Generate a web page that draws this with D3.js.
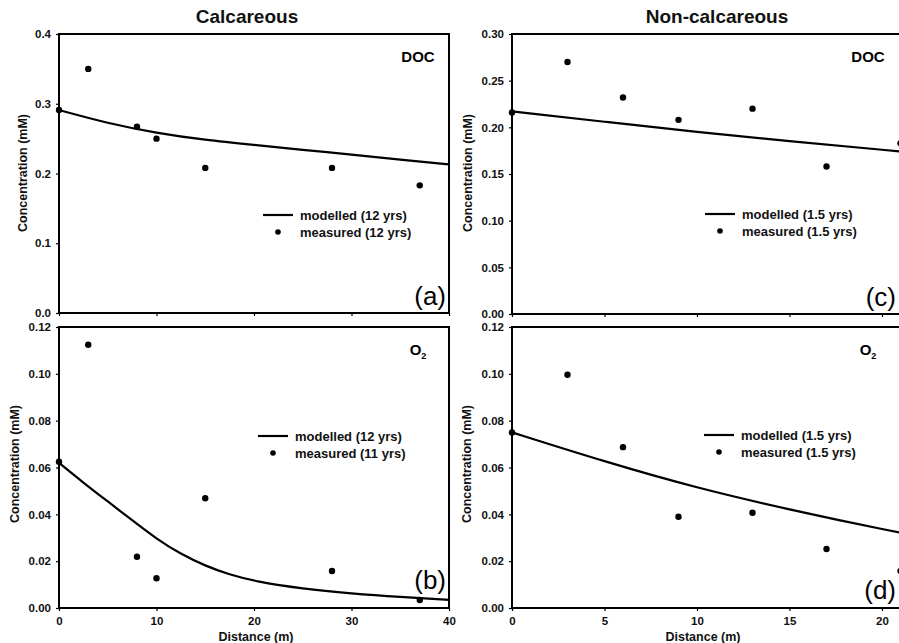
<!DOCTYPE html>
<html lang="en">
<head>
<meta charset="UTF-8">
<title>Calcareous / Non-calcareous DOC and O2 profiles</title>
<script src="https://cdnjs.cloudflare.com/ajax/libs/d3/7.8.5/d3.min.js"></script>
<style>
    body { margin: 0; background: #fff; }
    svg { display: block; font-family: 'Liberation Sans', Arial, sans-serif; }
    .tick text { font-size: 11.5px; font-weight: bold; fill: #111; }
    .tick line { stroke: #000; stroke-width: 1.2; }
    .frame { fill: none; stroke: #000; stroke-width: 2; }
    .model { fill: none; stroke: #000; stroke-width: 2.2; }
    .dot { fill: #000; }
    .ylab, .xlab { font-size: 12.5px; font-weight: bold; fill: #111; }
    .legend { font-size: 13px; font-weight: bold; fill: #111; }
    .tag { font-size: 15px; font-weight: bold; fill: #000; }
    .letter { font-size: 26px; fill: #000; }
    .title { font-size: 19px; font-weight: bold; fill: #111; }
</style>
</head>
<body>
<svg id="chart" width="899" height="643"></svg>
<script>
// measured distances (m)
const calcDist = [0, 3, 8, 10, 15, 28, 37];
const nonDist = [0, 3, 6, 9, 13, 17, 21];

// calcareous site
const calcDocMeas = [0.291, 0.350, 0.267, 0.250, 0.208, 0.208, 0.183];
const calcDocModelDist = [0, 5, 10, 15, 20, 25, 30, 35, 40];
const calcDocModel = [0.291, 0.272, 0.258, 0.248, 0.241, 0.234, 0.227, 0.220, 0.213];
const calcO2Meas = [0.0625, 0.1124, 0.0219, 0.0127, 0.0469, 0.0158, 0.0034];
const calcO2ModelDist = [0, 2.5, 5, 7.5, 10, 12.5, 15, 17.5, 20, 25, 30, 35, 40];
const calcO2Model = [0.062, 0.0535, 0.0455, 0.0375, 0.0295, 0.023, 0.018, 0.0142, 0.0115, 0.0082, 0.0062, 0.0047, 0.0035];

// non-calcareous site
const nonDocMeas = [0.216, 0.270, 0.232, 0.208, 0.220, 0.158, 0.183];
const nonModelDist = [0, 5, 10, 15, 20, 25];
const nonDocModel = [0.217, 0.206, 0.195, 0.185, 0.176, 0.167];
const nonO2Meas = [0.075, 0.0996, 0.0687, 0.039, 0.0407, 0.0252, 0.0158];
const nonO2Model = [0.075, 0.0625, 0.0512, 0.042, 0.0336, 0.026];

const yTicksCalcDoc = [0, 0.1, 0.2, 0.3, 0.4];
const yTicksNonDoc = [0, 0.05, 0.10, 0.15, 0.20, 0.25, 0.30];
const yTicksO2 = [0, 0.02, 0.04, 0.06, 0.08, 0.10, 0.12];
const xTicksCalc = [0, 10, 20, 30, 40];
const xTicksNon = [0, 5, 10, 15, 20];

const svg = d3.select('#chart');

// layout of the four panels (pixels)
const panels = [
    { xd: [0, 40], xr: [59, 449], yd: [0, 0.4], yr: [313, 34], yt: yTicksCalcDoc, yf: '.1f',
      xt: xTicksCalc, xLabels: false, meas: [calcDist, calcDocMeas], model: [calcDocModelDist, calcDocModel],
      tag: 'DOC', letter: '(a)', letterY: 305, legend: ['modelled (12 yrs)', 'measured (12 yrs)'],
      legX: 263, legY: 215, ylabX: 23, ylabY: 173 },
    { xd: [0, 40], xr: [59, 449], yd: [0, 0.12], yr: [608, 327], yt: yTicksO2, yf: '.2f',
      xt: xTicksCalc, xLabels: true, meas: [calcDist, calcO2Meas], model: [calcO2ModelDist, calcO2Model],
      tag: 'O2', letter: '(b)', letterY: 589, legend: ['modelled (12 yrs)', 'measured (11 yrs)'],
      legX: 258, legY: 436, ylabX: 15, ylabY: 464, xlabX: 256 },
    { xd: [0, 25], xr: [512, 974.5], yd: [0, 0.3], yr: [314, 34], yt: yTicksNonDoc, yf: '.2f',
      xt: xTicksNon, xLabels: false, meas: [nonDist, nonDocMeas], model: [nonModelDist, nonDocModel],
      tag: 'DOC', letter: '(c)', letterY: 306, legend: ['modelled (1.5 yrs)', 'measured (1.5 yrs)'],
      legX: 705, legY: 214, ylabX: 468, ylabY: 173 },
    { xd: [0, 25], xr: [512, 974.5], yd: [0, 0.12], yr: [608, 327], yt: yTicksO2, yf: '.2f',
      xt: xTicksNon, xLabels: true, meas: [nonDist, nonO2Meas], model: [nonModelDist, nonO2Model],
      tag: 'O2', letter: '(d)', letterY: 599, legend: ['modelled (1.5 yrs)', 'measured (1.5 yrs)'],
      legX: 704, legY: 435, ylabX: 467, ylabY: 464, xlabX: 703 }
];

panels.forEach(p => {
    const x = d3.scaleLinear().domain(p.xd).range(p.xr);
    const y = d3.scaleLinear().domain(p.yd).range(p.yr);
    const g = svg.append('g');

    // y axis
    const ya = g.append('g')
        .attr('transform', `translate(${p.xr[0]},0)`)
        .call(d3.axisLeft(y).tickValues(p.yt).tickFormat(d3.format(p.yf)).tickSize(3).tickPadding(5));
    ya.select('.domain').remove();

    // x axis
    const xa = g.append('g')
        .attr('transform', `translate(0,${p.yr[0]})`)
        .call(d3.axisBottom(x).tickValues(p.xt).tickSize(3).tickPadding(6)
            .tickFormat(p.xLabels ? d3.format('d') : ''));
    xa.select('.domain').remove();

    // frame
    g.append('rect').attr('class', 'frame')
        .attr('x', p.xr[0]).attr('y', p.yr[1])
        .attr('width', p.xr[1] - p.xr[0]).attr('height', p.yr[0] - p.yr[1]);

    // modelled curve
    const line = d3.line().x(d => x(d[0])).y(d => y(d[1])).curve(d3.curveBasis);
    g.append('path').attr('class', 'model')
        .attr('d', line(d3.zip(p.model[0], p.model[1])));

    // measured points
    g.selectAll('.dot').data(d3.zip(p.meas[0], p.meas[1])).join('circle')
        .attr('class', 'dot')
        .attr('cx', d => x(d[0])).attr('cy', d => y(d[1])).attr('r', 3.2);

    // legend
    g.append('line').attr('x1', p.legX).attr('x2', p.legX + 30)
        .attr('y1', p.legY).attr('y2', p.legY).attr('stroke', '#000').attr('stroke-width', 2.2);
    g.append('circle').attr('class', 'dot').attr('cx', p.legX + 15).attr('cy', p.legY + 17).attr('r', 2.8);
    g.append('text').attr('class', 'legend').attr('x', p.legX + 37).attr('y', p.legY).attr('dy', '0.35em').text(p.legend[0]);
    g.append('text').attr('class', 'legend').attr('x', p.legX + 37).attr('y', p.legY + 17).attr('dy', '0.35em').text(p.legend[1]);

    // species tag
    const tagX = p.xr[0] < 100 ? 418 : 868;
    const tag = g.append('text').attr('class', 'tag').attr('text-anchor', 'middle')
        .attr('x', tagX).attr('y', p.yr[1] + 28);
    if (p.tag === 'O2') {
        tag.append('tspan').text('O');
        tag.append('tspan').attr('font-size', '9px').attr('dy', 4).text('2');
    } else {
        tag.text(p.tag);
    }

    // panel letter
    g.append('text').attr('class', 'letter').attr('text-anchor', 'end')
        .attr('x', p.xr[0] < 100 ? 446 : 896).attr('y', p.letterY).text(p.letter);

    // y label
    g.append('text').attr('class', 'ylab').attr('text-anchor', 'middle')
        .attr('transform', `translate(${p.ylabX},${p.ylabY}) rotate(-90)`)
        .attr('dy', '0.35em').text('Concentration (mM)');

    // x label
    if (p.xLabels) {
        g.append('text').attr('class', 'xlab').attr('text-anchor', 'middle')
            .attr('x', p.xlabX).attr('y', 641).text('Distance (m)');
    }
});

svg.append('text').attr('class', 'title').attr('text-anchor', 'middle')
    .attr('x', 247).attr('y', 23).text('Calcareous');
svg.append('text').attr('class', 'title').attr('text-anchor', 'middle')
    .attr('x', 717).attr('y', 23).text('Non-calcareous');
</script>
</body>
</html>
